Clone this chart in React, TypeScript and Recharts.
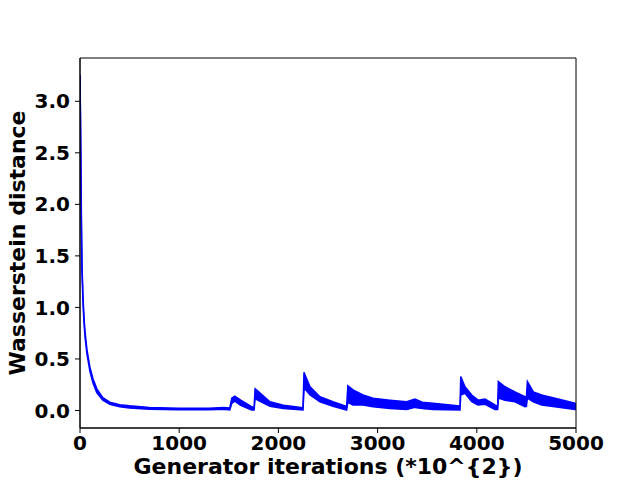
import { ComposedChart, Area, XAxis, YAxis, ReferenceArea, Label } from 'recharts'

// training curve (low / high edge of the noisy trace)
const iterations = [
  0, 5, 10, 15, 20, 30, 40, 50, 70, 100, 130, 170, 230, 300, 400, 500, 700, 1000, 1300, 1450,
  1510, 1530, 1560, 1620, 1730, 1755, 1765, 1790, 1915, 2050, 2248, 2258, 2275, 2319, 2419, 2550,
  2688, 2700, 2752, 2853, 2954, 3125, 3293, 3377, 3450, 3558, 3831, 3838, 3881, 3949, 4012, 4083,
  4183, 4210, 4217, 4284, 4385, 4486, 4500, 4510, 4570, 4654, 4788, 4990, 5000,
]
const lower = [
  3.24, 2.75, 2.2, 1.7, 1.35, 1.05, 0.86, 0.72, 0.55, 0.38, 0.27, 0.17, 0.1, 0.06, 0.035, 0.025, 0.012, 0.008, 0.008, 0.012,
  0.005, 0.07, 0.09, 0.05, 0.005, 0.005, 0.12, 0.1, 0.04, 0.02, 0.005, 0.2, 0.2, 0.15, 0.085, 0.04,
  0.005, 0.08, 0.053, 0.053, 0.037, 0.02, 0.01, 0.03, 0.02, 0.01, 0.005, 0.15, 0.167, 0.085, 0.053, 0.06,
  0.01, 0.01, 0.12, 0.1, 0.085, 0.037, 0.04, 0.12, 0.085, 0.053, 0.037, 0.01, 0.01,
]
const upper = [
  3.26, 2.85, 2.3, 1.8, 1.42, 1.11, 0.91, 0.77, 0.59, 0.42, 0.31, 0.21, 0.125, 0.08, 0.055, 0.045, 0.03, 0.022, 0.022, 0.03,
  0.025, 0.12, 0.14, 0.1, 0.037, 0.03, 0.21, 0.19, 0.085, 0.05, 0.027, 0.37, 0.33, 0.23, 0.134, 0.085,
  0.04, 0.24, 0.2, 0.15, 0.118, 0.1, 0.085, 0.11, 0.08, 0.07, 0.044, 0.33, 0.23, 0.15, 0.1, 0.11,
  0.053, 0.04, 0.28, 0.23, 0.18, 0.134, 0.13, 0.28, 0.18, 0.15, 0.118, 0.07, 0.06,
]

const xTicks = [0, 1000, 2000, 3000, 4000, 5000]
const yTicks = [0, 0.5, 1, 1.5, 2, 2.5, 3]
const xDomain = [0, 5000]
const yDomain = [-0.17, 3.42]

const data = iterations.map((it, i) => ({ it, band: [lower[i], upper[i]] }))

const font = { fontFamily: 'DejaVu Sans', fontWeight: 'bold' as const }
const tick = { fill: '#000', fontSize: 20, ...font }

export default function App() {
  return (
    <div style={{ position: 'absolute', left: 0, top: 0, background: '#fff' }}>
      <ComposedChart width={640} height={480} data={data} margin={{ top: 58, right: 64, bottom: 0, left: 0 }}>
        <XAxis
          dataKey="it"
          type="number"
          domain={xDomain}
          ticks={xTicks}
          interval={0}
          tick={tick}
          tickSize={5}
          tickMargin={3}
          height={52}
          stroke="#000"
          allowDataOverflow
        >
          <Label
            content={({ viewBox }: any) => (
              <text x={viewBox.x + viewBox.width / 2} y={474} textAnchor="middle" fontSize={22} {...font}>
                Generator iterations (*10^{'{'}2{'}'})
              </text>
            )}
          />
        </XAxis>
        <YAxis
          type="number"
          domain={yDomain}
          ticks={yTicks}
          interval={0}
          tick={tick}
          tickSize={5}
          tickMargin={5}
          width={80}
          stroke="#000"
          tickFormatter={v => (v as number).toFixed(1)}
          allowDataOverflow
        >
          <Label
            content={({ viewBox }: any) => {
              const cy = viewBox.y + viewBox.height / 2
              return (
                <text x={25} y={cy} transform={`rotate(-90 25 ${cy})`} textAnchor="middle" fontSize={22} {...font}>
                  Wasserstein distance
                </text>
              )
            }}
          />
        </YAxis>
        <Area
          dataKey="band"
          type="linear"
          stroke="#0000ff"
          strokeWidth={1.5}
          fill="#0000ff"
          fillOpacity={1}
          isAnimationActive={false}
          dot={false}
          activeDot={false}
        />
        <ReferenceArea x1={0} x2={5000} y1={yDomain[0]} y2={yDomain[1]} fill="none" stroke="#000" strokeWidth={1} ifOverflow="visible" />
      </ComposedChart>
    </div>
  )
}
